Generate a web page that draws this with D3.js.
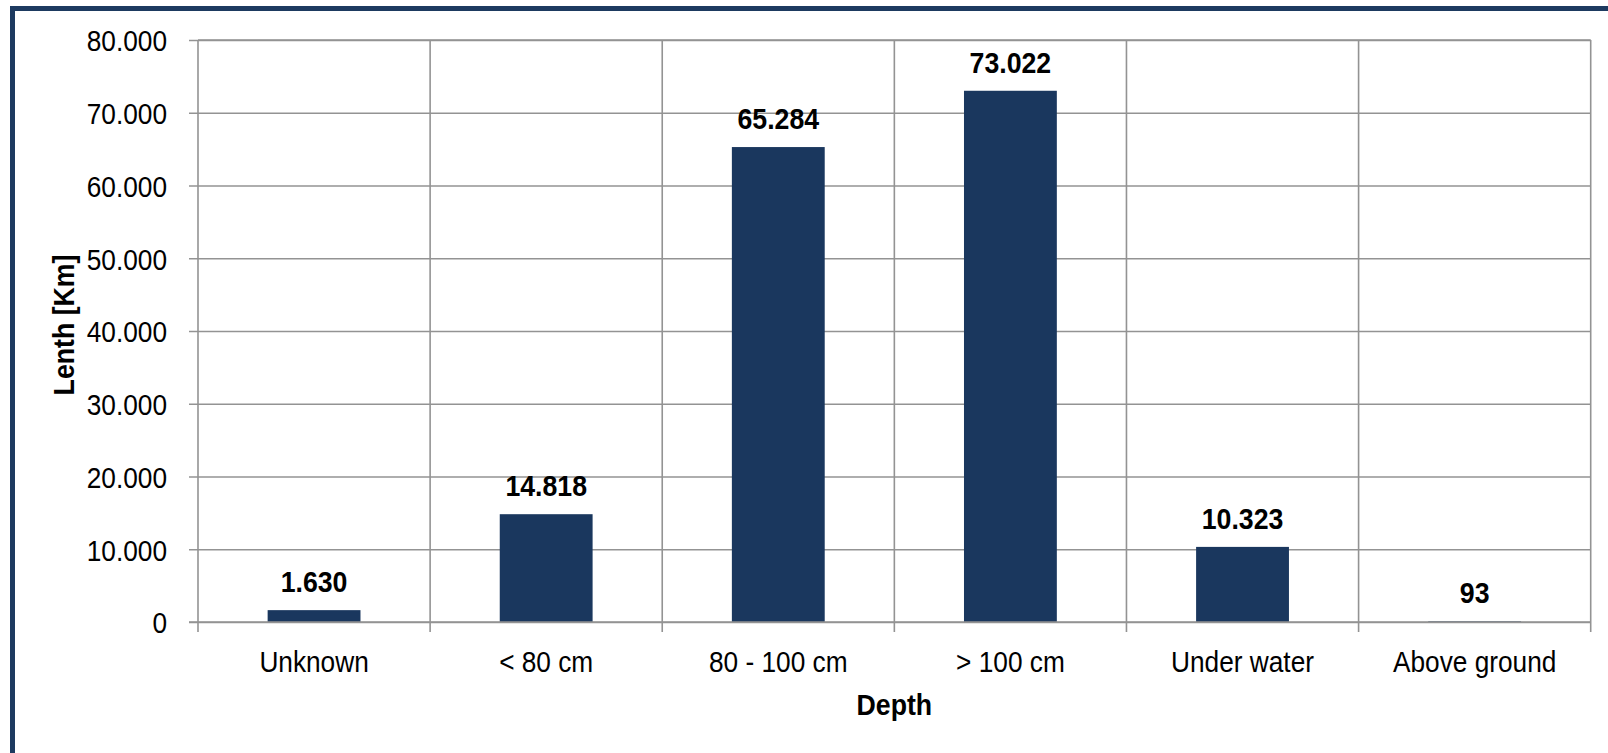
<!DOCTYPE html>
<html>
<head>
<meta charset="utf-8">
<script src="https://cdn.jsdelivr.net/npm/d3@7"></script>
<style>
  html, body { margin: 0; padding: 0; background: #fff; }
  svg { display: block; }
  text { font-family: "Liberation Sans", Arial, sans-serif; fill: #000; }
</style>
</head>
<body>
<svg id="chart" width="1608" height="753"></svg>
<script>
// Cable length by laying depth
const categories = ["Unknown", "< 80 cm", "80 - 100 cm", "> 100 cm", "Under water", "Above ground"];
const lengths = [1630, 14818, 65284, 73022, 10323, 93];
const yTicks = [0, 10000, 20000, 30000, 40000, 50000, 60000, 70000, 80000];
const yTickLabels = ["0", "10.000", "20.000", "30.000", "40.000", "50.000", "60.000", "70.000", "80.000"];
const valueLabels = ["1.630", "14.818", "65.284", "73.022", "10.323", "93"];

const svg = d3.select("#chart");
const W = 1608, H = 753;
const margin = { left: 198, right: 17.3, top: 40, bottom: 131 };
const innerW = W - margin.left - margin.right;
const innerH = H - margin.top - margin.bottom;

const gridColor = "#939393";
const barColor = "#1a375e";
const narrow = 0.875;     // horizontal squeeze for a narrow typeface look
const narrowBold = 0.89;

// outer frame
svg.append("rect")
  .attr("x", 12.5).attr("y", 8.5)
  .attr("width", W + 20).attr("height", H + 20)
  .attr("fill", "none")
  .attr("stroke", "#1d3a60")
  .attr("stroke-width", 5);

const g = svg.append("g").attr("transform", `translate(${margin.left},${margin.top})`);

const x = d3.scaleBand().domain(categories).range([0, innerW]).paddingInner(0).paddingOuter(0);
const y = d3.scaleLinear().domain([0, 80000]).range([innerH, 0]);

// horizontal gridlines with left tick marks
const yAxis = d3.axisLeft(y)
  .tickValues(yTicks)
  .tickSize(-innerW)
  .tickFormat((d, i) => yTickLabels[i]);
const yg = g.append("g").call(yAxis);
yg.select(".domain").remove();
yg.selectAll(".tick line")
  .attr("x1", -9)
  .attr("stroke", gridColor).attr("stroke-width", 1.6);
yg.selectAll(".tick text")
  .attr("x", null)
  .attr("dy", "0.36em")
  .attr("transform", `translate(-31,0) scale(${narrow},1)`)
  .attr("font-size", 30);

// vertical category boundaries, extending below the baseline as ticks
const bounds = categories.map(c => x(c)).concat([innerW]);
g.selectAll("line.vgrid").data(bounds).enter().append("line")
  .attr("class", "vgrid")
  .attr("x1", d => d).attr("x2", d => d)
  .attr("y1", 0).attr("y2", innerH + 10)
  .attr("stroke", gridColor).attr("stroke-width", 1.6);

// top border line of the plot
g.append("line")
  .attr("x1", 0).attr("x2", innerW)
  .attr("y1", 0).attr("y2", 0)
  .attr("stroke", gridColor).attr("stroke-width", 1.6);

// bars
const barW = x.bandwidth() * 0.4;
g.selectAll("rect.bar").data(lengths).enter().append("rect")
  .attr("class", "bar")
  .attr("x", (d, i) => x(categories[i]) + (x.bandwidth() - barW) / 2)
  .attr("y", d => y(d))
  .attr("width", barW)
  .attr("height", d => innerH - y(d))
  .attr("fill", barColor);

// baseline on top of bars
g.append("line")
  .attr("x1", -9).attr("x2", innerW)
  .attr("y1", innerH).attr("y2", innerH)
  .attr("stroke", gridColor).attr("stroke-width", 1.6);

// value labels
g.selectAll("text.val").data(lengths).enter().append("text")
  .attr("class", "val")
  .attr("transform", (d, i) => `translate(${x(categories[i]) + x.bandwidth() / 2},${y(d) - 18}) scale(${narrowBold},1)`)
  .attr("text-anchor", "middle")
  .attr("font-weight", "bold")
  .attr("font-size", 30)
  .text((d, i) => valueLabels[i]);

// category labels
g.selectAll("text.cat").data(categories).enter().append("text")
  .attr("class", "cat")
  .attr("transform", d => `translate(${x(d) + x.bandwidth() / 2},${innerH + 50}) scale(${narrow},1)`)
  .attr("text-anchor", "middle")
  .attr("font-size", 30)
  .text(d => d);

// axis titles
g.append("text")
  .attr("transform", `translate(${innerW / 2},${innerH + 93}) scale(${narrowBold},1)`)
  .attr("text-anchor", "middle")
  .attr("font-weight", "bold")
  .attr("font-size", 30)
  .text("Depth");

g.append("text")
  .attr("transform", `translate(${74 - margin.left},${325 - margin.top}) rotate(-90) scale(${narrowBold},1)`)
  .attr("text-anchor", "middle")
  .attr("font-weight", "bold")
  .attr("font-size", 30)
  .text("Lenth [Km]");
</script>
</body>
</html>
